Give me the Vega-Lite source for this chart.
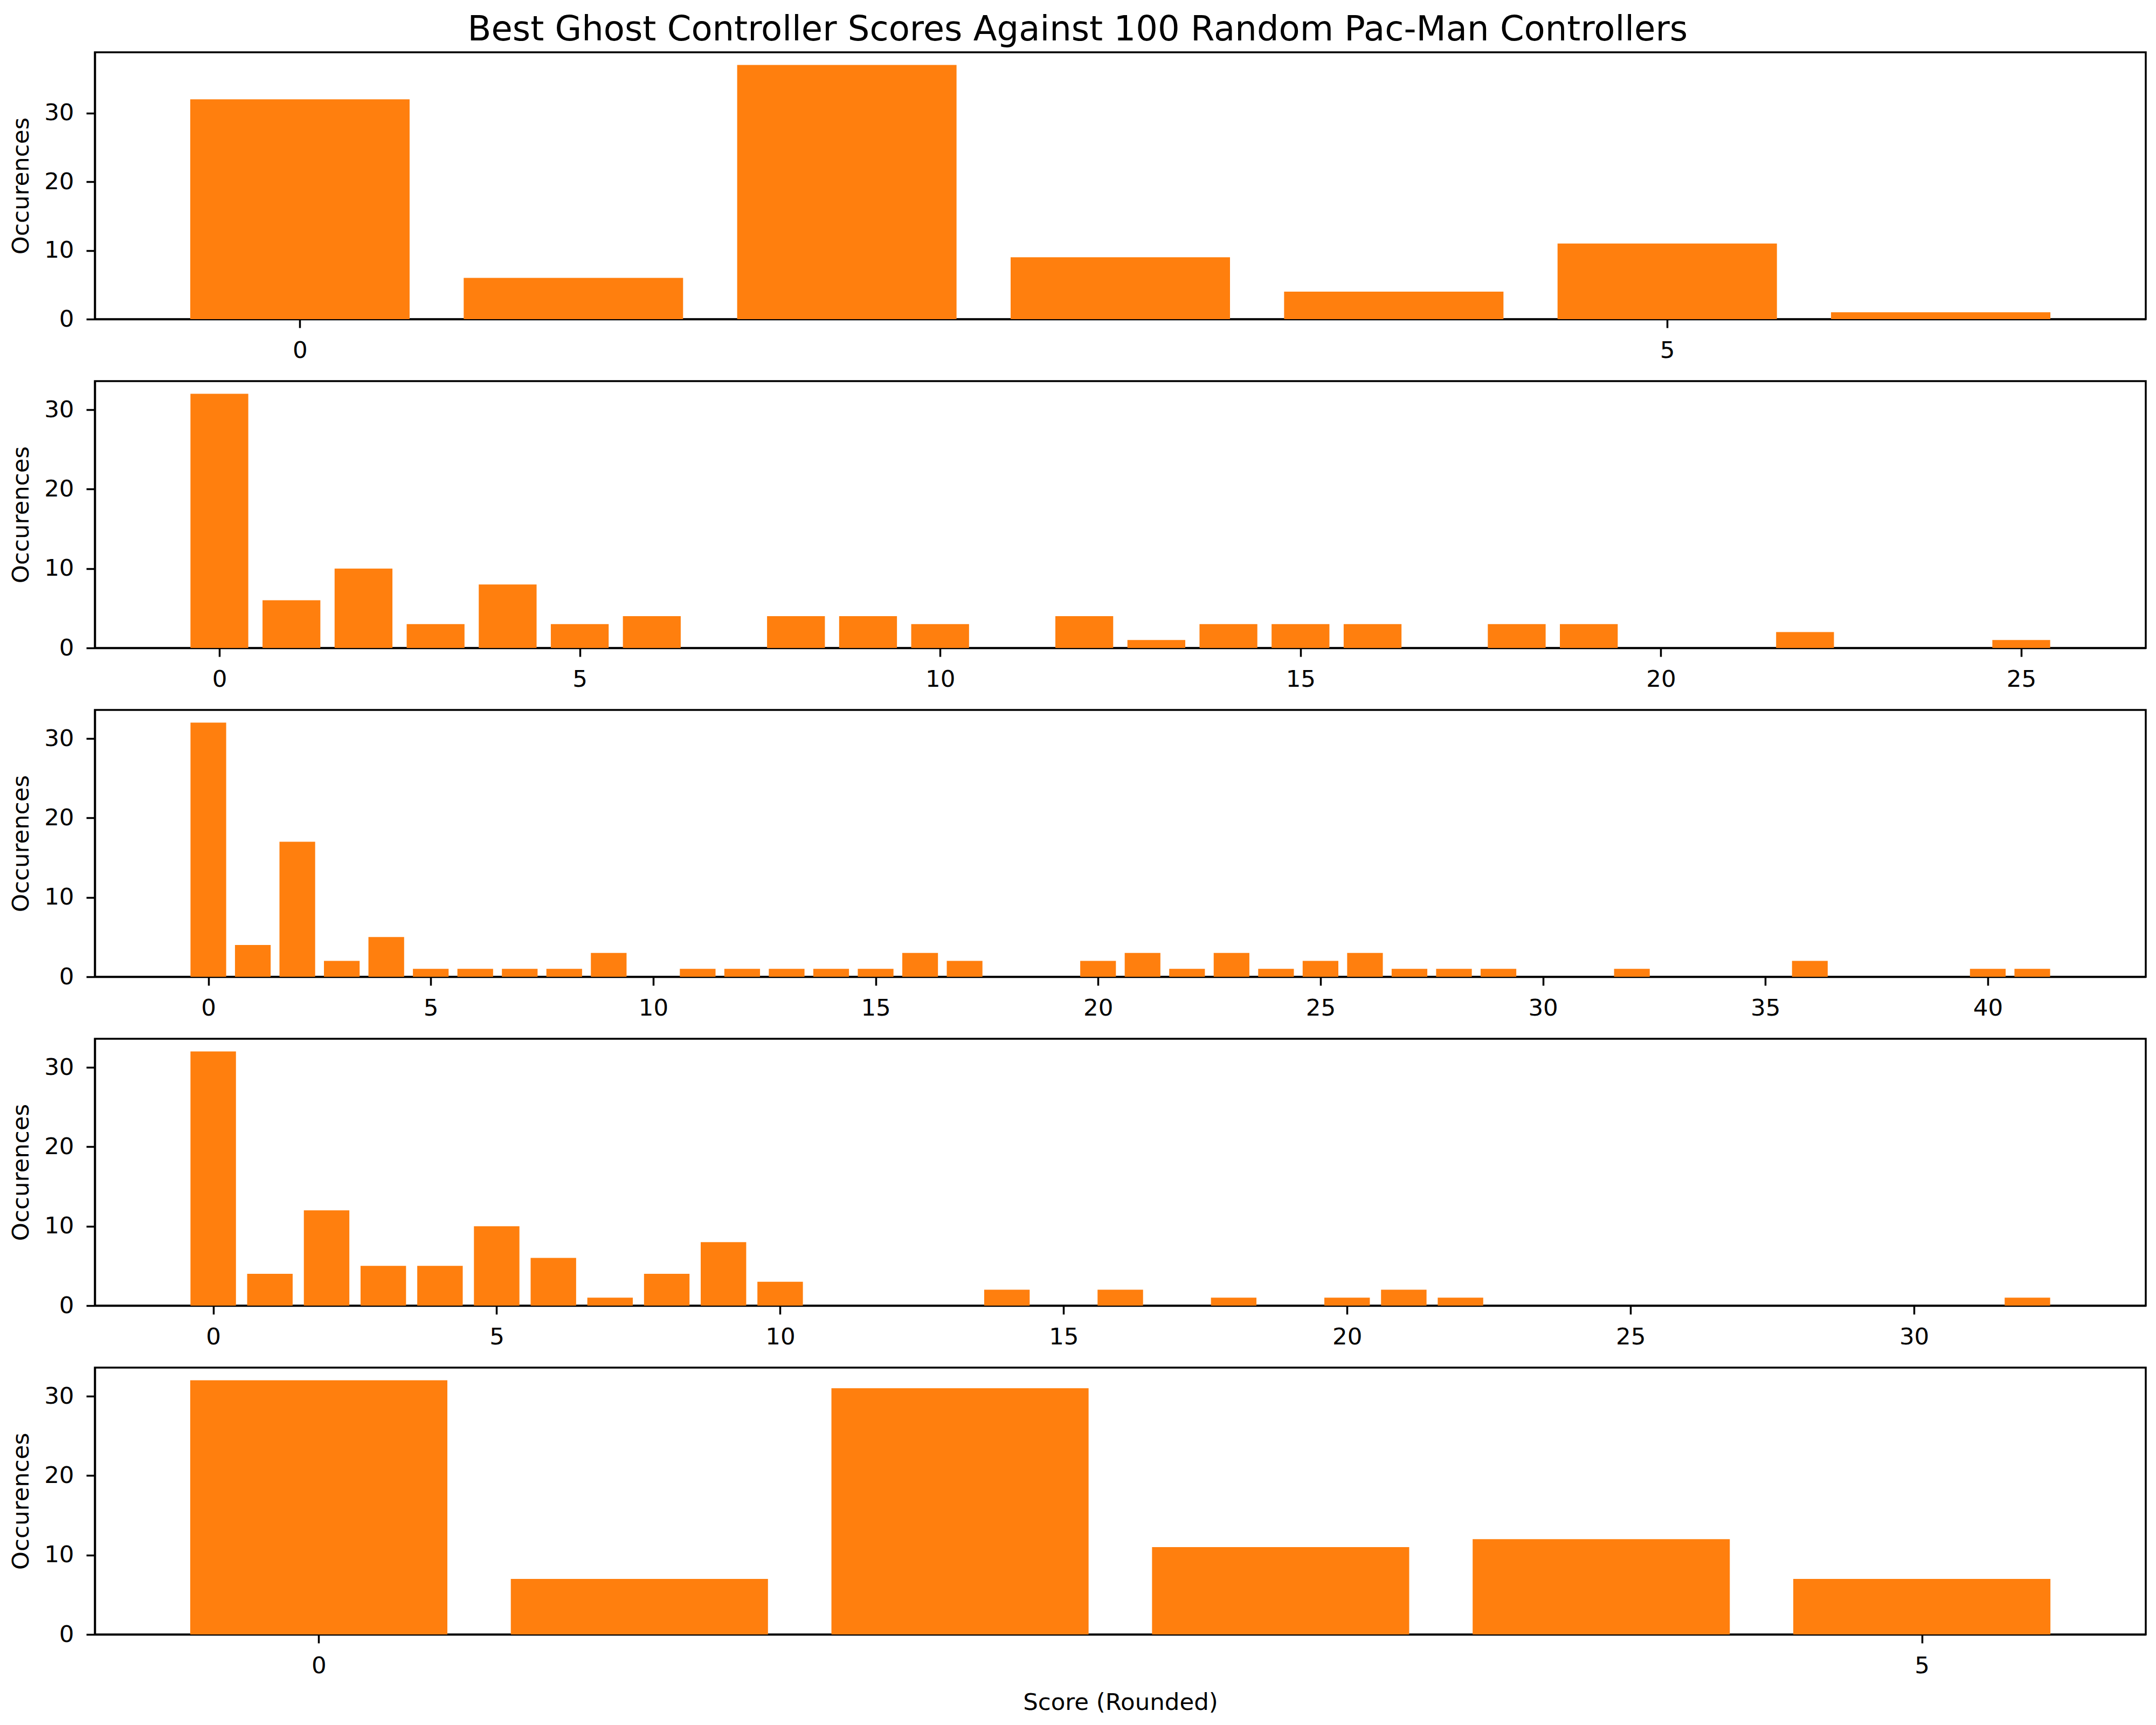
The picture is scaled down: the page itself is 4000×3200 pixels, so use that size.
{
  "$schema": "https://vega.github.io/schema/vega-lite/v6.json",
  "padding": {"left": 15, "top": 24, "right": 10, "bottom": 10},
  "background": "white",
  "title": {
    "text": "Best Ghost Controller Scores Against 100 Random Pac-Man Controllers",
    "fontSize": 64,
    "fontWeight": "normal",
    "font": "DejaVu Sans",
    "color": "black",
    "anchor": "middle",
    "baseline": "alphabetic",
    "offset": -44
  },
  "datasets": {
    "p1": [
      {"score": 0, "count": 32}, {"score": 1, "count": 6}, {"score": 2, "count": 37},
      {"score": 3, "count": 9}, {"score": 4, "count": 4}, {"score": 5, "count": 11},
      {"score": 6, "count": 1}
    ],
    "p2": [
      {"score": 0, "count": 32}, {"score": 1, "count": 6}, {"score": 2, "count": 10},
      {"score": 3, "count": 3}, {"score": 4, "count": 8}, {"score": 5, "count": 3},
      {"score": 6, "count": 4}, {"score": 8, "count": 4}, {"score": 9, "count": 4},
      {"score": 10, "count": 3}, {"score": 12, "count": 4}, {"score": 13, "count": 1},
      {"score": 14, "count": 3}, {"score": 15, "count": 3}, {"score": 16, "count": 3},
      {"score": 18, "count": 3}, {"score": 19, "count": 3}, {"score": 22, "count": 2},
      {"score": 25, "count": 1}
    ],
    "p3": [
      {"score": 0, "count": 32}, {"score": 1, "count": 4}, {"score": 2, "count": 17},
      {"score": 3, "count": 2}, {"score": 4, "count": 5}, {"score": 5, "count": 1},
      {"score": 6, "count": 1}, {"score": 7, "count": 1}, {"score": 8, "count": 1},
      {"score": 9, "count": 3}, {"score": 11, "count": 1}, {"score": 12, "count": 1},
      {"score": 13, "count": 1}, {"score": 14, "count": 1}, {"score": 15, "count": 1},
      {"score": 16, "count": 3}, {"score": 17, "count": 2}, {"score": 20, "count": 2},
      {"score": 21, "count": 3}, {"score": 22, "count": 1}, {"score": 23, "count": 3},
      {"score": 24, "count": 1}, {"score": 25, "count": 2}, {"score": 26, "count": 3},
      {"score": 27, "count": 1}, {"score": 28, "count": 1}, {"score": 29, "count": 1},
      {"score": 32, "count": 1}, {"score": 36, "count": 2}, {"score": 40, "count": 1},
      {"score": 41, "count": 1}
    ],
    "p4": [
      {"score": 0, "count": 32}, {"score": 1, "count": 4}, {"score": 2, "count": 12},
      {"score": 3, "count": 5}, {"score": 4, "count": 5}, {"score": 5, "count": 10},
      {"score": 6, "count": 6}, {"score": 7, "count": 1}, {"score": 8, "count": 4},
      {"score": 9, "count": 8}, {"score": 10, "count": 3}, {"score": 14, "count": 2},
      {"score": 16, "count": 2}, {"score": 18, "count": 1}, {"score": 20, "count": 1},
      {"score": 21, "count": 2}, {"score": 22, "count": 1}, {"score": 32, "count": 1}
    ],
    "p5": [
      {"score": 0, "count": 32}, {"score": 1, "count": 7}, {"score": 2, "count": 31},
      {"score": 3, "count": 11}, {"score": 4, "count": 12}, {"score": 5, "count": 7}
    ]
  },
  "vconcat": [
    {
      "data": {"name": "p1"},
      "width": 3805,
      "height": 495,
      "mark": {"type": "bar", "color": "#ff7f0e", "width": 407},
      "encoding": {
        "x": {"field": "score", "type": "quantitative", "title": null,
              "scale": {"domain": [-0.74, 6.74], "nice": false, "zero": false},
              "axis": {"values": [0, 5]}},
        "y": {"field": "count", "type": "quantitative", "title": "Occurences",
              "scale": {"domain": [0, 38.85], "nice": false},
              "axis": {"values": [0, 10, 20, 30]}}
      }
    },
    {
      "data": {"name": "p2"},
      "width": 3805,
      "height": 495,
      "mark": {"type": "bar", "color": "#ff7f0e", "width": 107.3},
      "encoding": {
        "x": {"field": "score", "type": "quantitative", "title": null,
              "scale": {"domain": [-1.69, 26.69], "nice": false, "zero": false},
              "axis": {"values": [0, 5, 10, 15, 20, 25]}},
        "y": {"field": "count", "type": "quantitative", "title": "Occurences",
              "scale": {"domain": [0, 33.6], "nice": false},
              "axis": {"values": [0, 10, 20, 30]}}
      }
    },
    {
      "data": {"name": "p3"},
      "width": 3805,
      "height": 495,
      "mark": {"type": "bar", "color": "#ff7f0e", "width": 66.2},
      "encoding": {
        "x": {"field": "score", "type": "quantitative", "title": null,
              "scale": {"domain": [-2.49, 43.49], "nice": false, "zero": false},
              "axis": {"values": [0, 5, 10, 15, 20, 25, 30, 35, 40]}},
        "y": {"field": "count", "type": "quantitative", "title": "Occurences",
              "scale": {"domain": [0, 33.6], "nice": false},
              "axis": {"values": [0, 10, 20, 30]}}
      }
    },
    {
      "data": {"name": "p4"},
      "width": 3805,
      "height": 495,
      "mark": {"type": "bar", "color": "#ff7f0e", "width": 84.4},
      "encoding": {
        "x": {"field": "score", "type": "quantitative", "title": null,
              "scale": {"domain": [-2.04, 34.04], "nice": false, "zero": false},
              "axis": {"values": [0, 5, 10, 15, 20, 25, 30]}},
        "y": {"field": "count", "type": "quantitative", "title": "Occurences",
              "scale": {"domain": [0, 33.6], "nice": false},
              "axis": {"values": [0, 10, 20, 30]}}
      }
    },
    {
      "data": {"name": "p5"},
      "width": 3805,
      "height": 495,
      "mark": {"type": "bar", "color": "#ff7f0e", "width": 477.1},
      "encoding": {
        "x": {"field": "score", "type": "quantitative", "title": "Score (Rounded)",
              "scale": {"domain": [-0.69, 5.69], "nice": false, "zero": false},
              "axis": {"values": [0, 5]}},
        "y": {"field": "count", "type": "quantitative", "title": "Occurences",
              "scale": {"domain": [0, 33.6], "nice": false},
              "axis": {"values": [0, 10, 20, 30]}}
      }
    }
  ],
  "spacing": 115,
  "bounds": "flush",
  "config": {
    "font": "DejaVu Sans",
    "view": {"stroke": "black", "strokeWidth": 3.5},
    "axis": {
      "grid": false,
      "domainColor": "black",
      "domainWidth": 3.5,
      "tickColor": "black",
      "tickWidth": 3.5,
      "tickSize": 16,
      "labelFont": "DejaVu Sans",
      "labelFontSize": 43.5,
      "labelColor": "black",
      "labelFlush": false,
      "labelOverlap": false,
      "titleFont": "DejaVu Sans",
      "titleFontSize": 43.5,
      "titleFontWeight": "normal",
      "titleColor": "black"
    },
    "axisX": {"labelPadding": 21, "titlePadding": 26},
    "axisY": {"labelPadding": 23, "titlePadding": 20}
  }
}
